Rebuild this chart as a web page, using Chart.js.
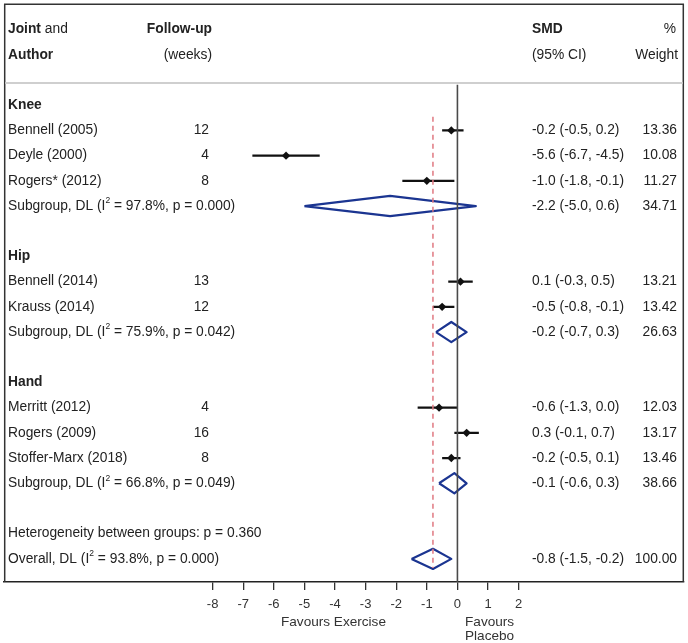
<!DOCTYPE html>
<html>
<head>
<meta charset="utf-8">
<script src="https://cdn.jsdelivr.net/npm/chart.js@4.4.1/dist/chart.umd.min.js"></script>
<style>
  html, body { margin: 0; padding: 0; background: #fff; }
  #wrap { width: 688px; height: 643px; position: relative; }
</style>
</head>
<body>
<div id="wrap"><canvas id="forest"></canvas></div>
<script>
// studies
const studies = ['Bennell (2005)', 'Deyle (2000)', 'Rogers* (2012)', 'Bennell (2014)', 'Krauss (2014)', 'Merritt (2012)', 'Rogers (2009)', 'Stoffer-Marx (2018)'];
const followUp = [12, 4, 8, 13, 12, 4, 16, 8];
const smd = [-0.2, -5.6, -1.0, 0.1, -0.5, -0.6, 0.3, -0.2];
const lower = [-0.5, -6.7, -1.8, -0.3, -0.8, -1.3, -0.1, -0.5];
const upper = [0.2, -4.5, -0.1, 0.5, -0.1, 0.0, 0.7, 0.1];
const weights = ['13.36', '10.08', '11.27', '13.21', '13.42', '12.03', '13.17', '13.46'];
const studyRows = [4, 5, 6, 10, 11, 15, 16, 17];

// subgroups
const groups = ['Knee', 'Hip', 'Hand'];
const groupRows = [3, 9, 14];
const subRows = [7, 12, 18];
const subI2 = ['97.8', '75.9', '66.8'];
const subP = ['0.000', '0.042', '0.049'];
const subSmd = [-2.2, -0.2, -0.1];
const subLower = [-5.0, -0.7, -0.6];
const subUpper = [0.6, 0.3, 0.3];
const subWeights = ['34.71', '26.63', '38.66'];

// overall
const overallRow = 21;
const hetRow = 20;
const hetP = '0.360';
const overallI2 = '93.8';
const overallP = '0.000';
const overallSmd = -0.8;
const overallLower = -1.5;
const overallUpper = -0.2;
const overallWeight = '100.00';

const xTicks = [-8, -7, -6, -5, -4, -3, -2, -1, 0, 1, 2];

const FONT = "'Liberation Sans', Arial, sans-serif";
const FS = '13.8px ';
const TXT = '#222';
const NAVY = '#1b3591';
const DIAMOND_H = 0.4; // half height in rows

function fmt(v) { return v.toFixed(1); }
function ciText(e, l, u) { return fmt(e) + ' (' + fmt(l) + ', ' + fmt(u) + ')'; }

function diamond(e, l, u, row) {
  return [
    { x: l, y: row }, { x: e, y: row - DIAMOND_H }, { x: u, y: row },
    { x: e, y: row + DIAMOND_H }, { x: l, y: row }
  ];
}

const datasets = [];
// line of no effect
datasets.push({
  data: [{ x: 0, y: 2.19 }, { x: 0, y: 22 }],
  showLine: true, borderColor: '#4a4a4a', borderWidth: 1.6, pointRadius: 0
});
// overall effect dashed line
datasets.push({
  data: [{ x: overallSmd, y: 3.46 }, { x: overallSmd, y: 21.36 }],
  showLine: true, borderColor: '#e07880', borderWidth: 1.5, borderDash: [5, 4], pointRadius: 0
});
// confidence intervals
for (let i = 0; i < studies.length; i++) {
  datasets.push({
    data: [{ x: lower[i], y: studyRows[i] }, { x: upper[i], y: studyRows[i] }],
    showLine: true, borderColor: '#111', borderWidth: 2.2, pointRadius: 0
  });
}
// point estimates
datasets.push({
  data: smd.map((v, i) => ({ x: v, y: studyRows[i] })),
  pointStyle: 'rectRot', pointRadius: 4.2, backgroundColor: '#111', borderColor: '#111', borderWidth: 0
});
// subgroup diamonds
for (let i = 0; i < groups.length; i++) {
  datasets.push({
    data: diamond(subSmd[i], subLower[i], subUpper[i], subRows[i]),
    showLine: true, borderColor: NAVY, borderWidth: 2.2, borderJoinStyle: 'round', pointRadius: 0
  });
}
datasets.push({
  data: diamond(overallSmd, overallLower, overallUpper, overallRow),
  showLine: true, borderColor: NAVY, borderWidth: 2.2, borderJoinStyle: 'round', pointRadius: 0
});

function drawSup(ctx, x, y, pre, post) {
  ctx.font = FS + FONT;
  ctx.fillText(pre, x, y);
  x += ctx.measureText(pre).width;
  ctx.font = '8.5px ' + FONT;
  ctx.fillText('2', x, y - 5);
  x += ctx.measureText('2').width;
  ctx.font = FS + FONT;
  ctx.fillText(post, x, y);
}

const forestText = {
  id: 'forestText',
  afterDraw(chart) {
    const ctx = chart.ctx;
    const ys = chart.scales.y;
    const xs = chart.scales.x;
    const a = chart.chartArea;
    ctx.save();
    // frame
    ctx.strokeStyle = '#333';
    ctx.lineWidth = 1.5;
    ctx.beginPath();
    ctx.moveTo(a.left + 0.5, a.bottom);
    ctx.lineTo(a.left + 0.5, a.top);
    ctx.lineTo(a.right - 0.5, a.top);
    ctx.lineTo(a.right - 0.5, a.bottom);
    ctx.stroke();
    // header separator
    ctx.strokeStyle = '#cfcfcf';
    ctx.lineWidth = 2;
    ctx.beginPath();
    ctx.moveTo(a.left + 1, 83);
    ctx.lineTo(a.right - 1, 83);
    ctx.stroke();

    ctx.fillStyle = TXT;
    ctx.textBaseline = 'middle';
    const colLabel = 8, colFu = 209, colSmd = 532, colW = 677;
    const yr = r => ys.getPixelForValue(r);

    // header
    ctx.textAlign = 'left';
    ctx.font = 'bold ' + FS + FONT;
    ctx.fillText('Joint', colLabel, yr(0));
    const jw = ctx.measureText('Joint').width;
    ctx.font = FS + FONT;
    ctx.fillText(' and', colLabel + jw, yr(0));
    ctx.font = 'bold ' + FS + FONT;
    ctx.fillText('Author', colLabel, yr(1));
    ctx.fillText('SMD', colSmd, yr(0));
    ctx.textAlign = 'right';
    ctx.fillText('Follow-up', colFu + 3, yr(0));
    ctx.font = FS + FONT;
    ctx.fillText('(weeks)', colFu + 3, yr(1));
    ctx.fillText('%', colW - 1, yr(0));
    ctx.fillText('Weight', colW + 1, yr(1));
    ctx.textAlign = 'left';
    ctx.fillText('(95% CI)', colSmd, yr(1));

    // group headings
    ctx.font = 'bold ' + FS + FONT;
    groups.forEach((g, i) => ctx.fillText(g, colLabel, yr(groupRows[i])));

    // studies
    ctx.font = FS + FONT;
    studies.forEach((s, i) => {
      const y = yr(studyRows[i]);
      ctx.textAlign = 'left';
      ctx.fillText(s, colLabel, y);
      ctx.fillText(ciText(smd[i], lower[i], upper[i]), colSmd, y);
      ctx.textAlign = 'right';
      ctx.fillText(String(followUp[i]), colFu, y);
      ctx.fillText(weights[i], colW, y);
    });

    // subgroups
    groups.forEach((g, i) => {
      const y = yr(subRows[i]);
      ctx.textAlign = 'left';
      drawSup(ctx, colLabel, y, 'Subgroup, DL (I', ' = ' + subI2[i] + '%, p = ' + subP[i] + ')');
      ctx.fillText(ciText(subSmd[i], subLower[i], subUpper[i]), colSmd, y);
      ctx.textAlign = 'right';
      ctx.fillText(subWeights[i], colW, y);
    });

    // heterogeneity and overall
    ctx.textAlign = 'left';
    ctx.fillText('Heterogeneity between groups: p = ' + hetP, colLabel, yr(hetRow));
    drawSup(ctx, colLabel, yr(overallRow), 'Overall, DL (I', ' = ' + overallI2 + '%, p = ' + overallP + ')');
    ctx.fillText(ciText(overallSmd, overallLower, overallUpper), colSmd, yr(overallRow));
    ctx.textAlign = 'right';
    ctx.fillText(overallWeight, colW, yr(overallRow));

    // axis captions
    ctx.fillStyle = '#333';
    ctx.font = '13.6px ' + FONT;
    ctx.textAlign = 'center';
    ctx.fillText('Favours Exercise', xs.getPixelForValue(-4.05), 622.5);
    ctx.fillText('Favours', xs.getPixelForValue(1.05), 622.5);
    ctx.fillText('Placebo', xs.getPixelForValue(1.05), 636.5);
    ctx.restore();
  }
};

const ctx = document.getElementById('forest').getContext('2d');
const chart = new Chart(ctx, {
  type: 'scatter',
  data: { datasets: datasets },
  options: {
    responsive: true,
    maintainAspectRatio: false,
    animation: false,
    events: [],
    layout: { padding: { left: 2, right: 3, top: 2, bottom: 0 } },
    plugins: { legend: { display: false }, tooltip: { enabled: false } },
    scales: {
      x: {
        type: 'linear',
        min: (2 - 457.5) / 30.76,
        max: (685 - 457.5) / 30.76,
        afterBuildTicks: s => { s.ticks = xTicks.map(v => ({ value: v })); },
        afterFit: s => { s.height = 61; },
        border: { display: true, color: '#222', width: 1.5 },
        grid: { display: true, drawOnChartArea: false, drawTicks: true, tickLength: 8, color: '#333', lineWidth: 1.3 },
        ticks: { color: '#333', font: { family: FONT, size: 13 }, padding: 7, autoSkip: false, maxRotation: 0 }
      },
      y: {
        type: 'linear',
        display: false,
        reverse: true,
        min: -1.008,
        max: 21.917
      }
    }
  },
  plugins: [forestText]
});
</script>
</body>
</html>
